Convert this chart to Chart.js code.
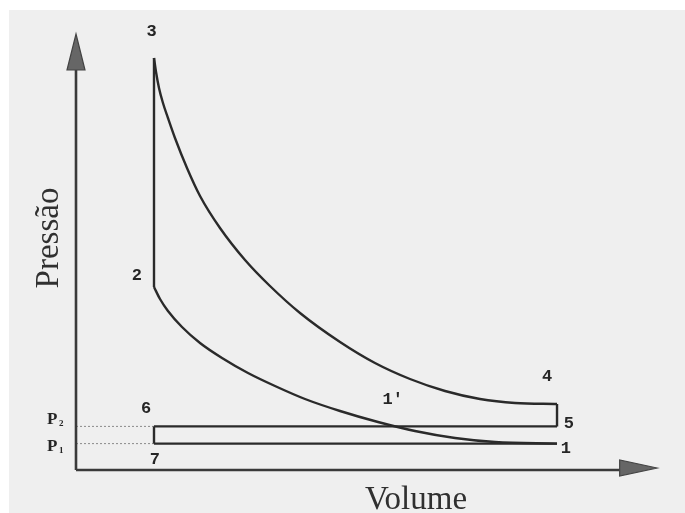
<!DOCTYPE html>
<html><head><meta charset="utf-8">
<script src="https://cdn.jsdelivr.net/npm/chart.js@4.4.0/dist/chart.umd.min.js"></script>
<style>html,body{margin:0;padding:0;background:#fff;overflow:hidden}</style>
</head><body>
<canvas id="c" width="685" height="513"></canvas>
<script>
// ---- data (volume units, pressure units) ----
const V_min = 1.0;          // states 2,3,6,7
const V_max = 6.167;        // states 1,4,5
const P_1 = 0.66;           // intake pressure (P1)
const P_2 = 1.09;           // exhaust pressure (P2)
const P_state4 = 1.65;
const P_state2 = 4.575;
const P_state3 = 10.3;
// expansion 3 -> 4
const expansionV = [1.0, 1.026, 1.064, 1.115, 1.179, 1.269, 1.423, 1.590, 1.846, 2.167, 2.487, 2.872, 3.385, 3.833, 4.282, 4.731, 5.179, 5.628, 6.167];
const expansionP = [10.3, 9.95, 9.55, 9.175, 8.8, 8.3, 7.55, 6.85, 6.05, 5.25, 4.6, 3.925, 3.2, 2.675, 2.275, 1.975, 1.775, 1.675, 1.65];
// compression 1 -> 2
const compressionV = [1.0, 1.077, 1.179, 1.359, 1.590, 1.872, 2.205, 2.551, 2.936, 3.385, 3.872, 4.346, 4.859, 5.372, 6.167];
const compressionP = [4.575, 4.275, 3.975, 3.575, 3.175, 2.8, 2.425, 2.1, 1.775, 1.475, 1.2, 0.975, 0.8, 0.7, 0.66];
// axes extent
const axisEndV = 6.97, axisTipV = 7.45;
const axisEndP = 10.0, axisTipP = 10.9;
// point labels: text, V, P
const labelTexts = ["3", "2", "4", "1'", "5", "1", "6", "7"];
const labelV     = [0.97, 0.78, 6.04, 4.06, 6.32, 6.28, 0.90, 1.01];
const labelP     = [10.95, 4.85, 2.33, 1.75, 1.15, 0.53, 1.53, 0.25];
const xTitle = "Volume", yTitle = "Pressão";

const ink = '#2a2a2a';
const pts = (vs, ps) => vs.map((v, i) => ({x: v, y: ps[i]}));
const line = (data, extra) => Object.assign({data, showLine: true, borderColor: ink, borderWidth: 2.4, pointRadius: 0, fill: false, clip: false}, extra || {});

const datasets = [
  line([{x:0,y:0},{x:0,y:axisEndP}], {borderColor:'#3a3a3a', borderWidth:2.6}),
  line([{x:0,y:0},{x:axisEndV,y:0}], {borderColor:'#3a3a3a', borderWidth:2.6}),
  line([{x:V_min,y:P_state2},{x:V_min,y:P_state3}]),
  line(pts(expansionV, expansionP), {cubicInterpolationMode:'monotone'}),
  line([{x:V_max,y:P_state4},{x:V_max,y:P_2}]),
  line([{x:V_max,y:P_2},{x:V_min,y:P_2}]),
  line([{x:V_min,y:P_2},{x:V_min,y:P_1}]),
  line([{x:V_min,y:P_1},{x:V_max,y:P_1}]),
  line(pts(compressionV, compressionP), {cubicInterpolationMode:'monotone'}),
  line([{x:0,y:P_2},{x:V_min,y:P_2}], {borderColor:'#8a8a8a', borderWidth:1, borderDash:[2,2]}),
  line([{x:0,y:P_1},{x:V_min,y:P_1}], {borderColor:'#8a8a8a', borderWidth:1, borderDash:[2,2]}),
];

const decor = {
  id: 'decor',
  beforeDraw(chart) {
    const ctx = chart.ctx;
    ctx.save();
    ctx.fillStyle = '#ffffff';
    ctx.fillRect(0, 0, chart.width, chart.height);
    ctx.fillStyle = '#efefef';
    ctx.fillRect(9, 10, chart.width - 9, chart.height - 10);
    ctx.restore();
  },
  afterDatasetsDraw(chart) {
    const ctx = chart.ctx, xs = chart.scales.x, ys = chart.scales.y;
    ctx.save();
    // arrow heads
    ctx.fillStyle = '#666'; ctx.strokeStyle = '#444'; ctx.lineWidth = 1.2;
    const x0 = xs.getPixelForValue(0), y0 = ys.getPixelForValue(0);
    const yb = ys.getPixelForValue(axisEndP), yt = ys.getPixelForValue(axisTipP);
    ctx.beginPath(); ctx.moveTo(x0, yt); ctx.lineTo(x0 + 9, yb); ctx.lineTo(x0 - 9, yb); ctx.closePath(); ctx.fill(); ctx.stroke();
    const xb = xs.getPixelForValue(axisEndV), xt = xs.getPixelForValue(axisTipV);
    ctx.beginPath(); ctx.moveTo(xt, y0 - 2); ctx.lineTo(xb, y0 - 10); ctx.lineTo(xb, y0 + 6); ctx.closePath(); ctx.fill(); ctx.stroke();
    // point labels
    ctx.fillStyle = '#262626';
    ctx.font = 'bold 17px "Liberation Mono"';
    ctx.textAlign = 'center'; ctx.textBaseline = 'middle';
    labelTexts.forEach((t, i) => ctx.fillText(t, xs.getPixelForValue(labelV[i]), ys.getPixelForValue(labelP[i])));
    // P2 / P1 labels
    const drawP = (sub, p, dy) => {
      const y = ys.getPixelForValue(p) + dy;
      ctx.font = 'bold 17px "Liberation Serif"';
      ctx.textAlign = 'left';
      ctx.fillText('P', x0 - 29, y);
      ctx.font = 'bold 9px "Liberation Serif"';
      ctx.fillText(sub, x0 - 17, y + 4);
    };
    drawP('2', P_2, -7); drawP('1', P_1, 3);
    // axis titles
    ctx.fillStyle = '#303030';
    ctx.font = '33px "Liberation Serif"';
    ctx.textAlign = 'center'; ctx.textBaseline = 'alphabetic';
    ctx.fillText(xTitle, 416, 509);
    ctx.translate(58, 238); ctx.rotate(-Math.PI / 2);
    ctx.fillText(yTitle, 0, 0);
    ctx.restore();
  }
};

new Chart(document.getElementById('c'), {
  type: 'scatter',
  data: { datasets },
  options: {
    responsive: false, animation: false,
    layout: { padding: { left: 76, right: 24, top: 30, bottom: 43 } },
    plugins: { legend: { display: false }, tooltip: { enabled: false } },
    scales: {
      x: { type: 'linear', min: 0, max: 7.5, display: false },
      y: { type: 'linear', min: 0, max: 11, display: false }
    }
  },
  plugins: [decor]
});
</script>
</body></html>
